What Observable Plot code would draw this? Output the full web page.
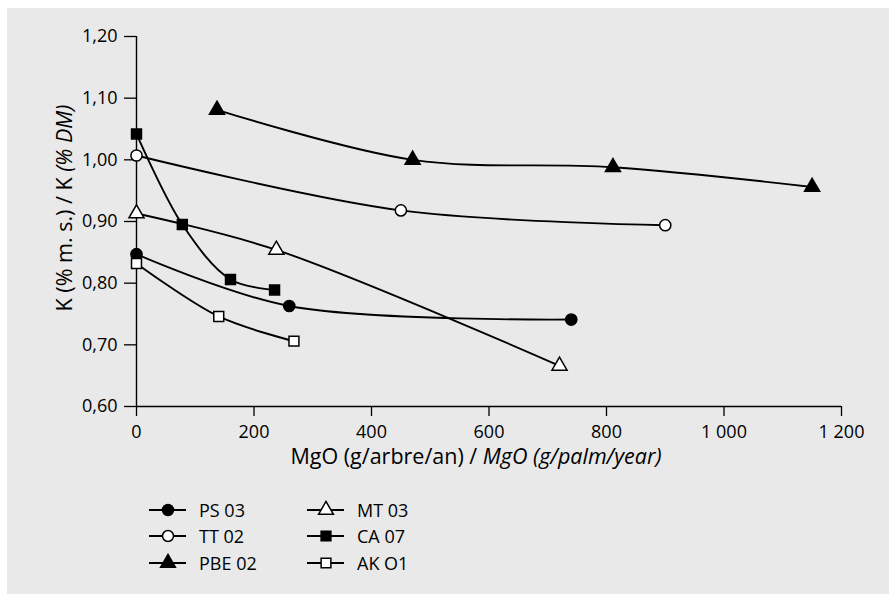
<!DOCTYPE html>
<html>
<head>
<meta charset="utf-8">
<script src="https://cdn.jsdelivr.net/npm/d3@7"></script>
<script src="https://cdn.jsdelivr.net/npm/@observablehq/plot@0.6"></script>
<style>
  html, body { margin: 0; padding: 0; background: #ffffff; }
  #page { position: relative; width: 889px; height: 594px; overflow: hidden; background: #ffffff; font-family: "Open Sans", sans-serif; }
  #bg { position: absolute; left: 7px; top: 8px; right: 0; bottom: 0; background: #e9e9e9; }
  #chart { position: absolute; left: 0; top: 0; }
  #legend { position: absolute; left: 0; top: 0; width: 889px; height: 594px; }
  .item { position: absolute; display: flex; align-items: center; font-size: 18px; color: #000; height: 20px; }
  .item svg { display: block; margin-right: 13px; }
</style>
</head>
<body>
<div id="page">
  <div id="bg"></div>
  <div id="chart"></div>
  <div id="legend"></div>
</div>
<script>
// ---- data ----
const seriesNames = ["PS 03", "TT 02", "PBE 02", "MT 03", "CA 07", "AK O1"];
const seriesSymbols = ["circle", "circle", "triangle", "triangle", "square", "square"];
const seriesFills = ["black", "white", "black", "white", "black", "white"];

const psMgO = [0, 260, 740];
const psK = [0.847, 0.763, 0.741];
const ttMgO = [0, 450, 900];
const ttK = [1.007, 0.918, 0.894];
const pbeMgO = [137, 470, 811, 1150];
const pbeK = [1.081, 1.000, 0.988, 0.956];
const mtMgO = [0, 238, 720];
const mtK = [0.913, 0.854, 0.666];
const caMgO = [0, 78, 160, 235];
const caK = [1.042, 0.895, 0.806, 0.789];
const akMgO = [0, 140, 268];
const akK = [0.832, 0.746, 0.706];

const xTicks = [0, 200, 400, 600, 800, 1000, 1200];
const yTicks = [0.60, 0.70, 0.80, 0.90, 1.00, 1.10, 1.20];

const seriesX = [psMgO, ttMgO, pbeMgO, mtMgO, caMgO, akMgO];
const seriesY = [psK, ttK, pbeK, mtK, caK, akK];

const rows = [];
seriesNames.forEach((name, i) => {
  seriesX[i].forEach((x, j) => {
    rows.push({series: name, mgo: x, k: seriesY[i][j], symbol: seriesSymbols[i], fill: seriesFills[i]});
  });
});

const fmtX = d => d >= 1000 ? String(d).replace(/(\d)(\d{3})$/, "$1\u00a0$2") : String(d);
const fmtY = d => d.toFixed(2).replace(".", ",");

const plot = Plot.plot({
  width: 889,
  height: 480,
  marginLeft: 136,
  marginRight: 48,
  marginTop: 36,
  marginBottom: 74,
  style: {fontFamily: "Open Sans, sans-serif", fontSize: "18px", background: "transparent", color: "#000"},
  x: {domain: [0, 1200]},
  y: {domain: [0.6, 1.2]},
  symbol: {type: "identity"},
  color: {type: "identity"},
  marks: [
    Plot.axisY({ticks: yTicks, tickFormat: fmtY, tickSize: 12, tickPadding: 7, label: null, stroke: "#000", strokeWidth: 1.3, fontSize: 18}),
    Plot.axisX({ticks: xTicks, tickFormat: fmtX, tickSize: 10, tickPadding: 9, label: null, stroke: "#000", strokeWidth: 1.3, fontSize: 18}),
    Plot.ruleX([0], {stroke: "#000", strokeWidth: 1.4}),
    Plot.ruleY([0.6], {stroke: "#000", strokeWidth: 1.4}),
    Plot.line(rows, {x: "mgo", y: "k", z: "series", curve: "catmull-rom", stroke: "#000", strokeWidth: 1.9}),
    Plot.dot(rows, {x: "mgo", y: "k", symbol: "symbol", fill: "fill", stroke: "#000", strokeWidth: 1.5, r: 5.6})
  ]
});
document.getElementById("chart").appendChild(plot);

// axis titles with mixed italic
const svg = d3.select(plot);
const xt = svg.append("text")
  .attr("x", 476).attr("y", 464)
  .attr("text-anchor", "middle")
  .attr("font-size", 21.5).attr("fill", "#000");
xt.append("tspan").text("MgO (g/arbre/an) / ");
xt.append("tspan").attr("font-style", "italic").text("MgO (g/palm/year)");

const yt = svg.append("text")
  .attr("transform", "translate(72,208) rotate(-90)")
  .attr("text-anchor", "middle")
  .attr("font-size", 21.5).attr("fill", "#000");
yt.append("tspan").text("K (% m. s.) / K ");
yt.append("tspan").attr("font-style", "italic").text("(% DM)");

// legend
const legend = document.getElementById("legend");
const legendPos = [
  [149, 500], [149, 526], [149, 553],
  [307, 500], [307, 526], [307, 553]
];
const symMap = {circle: d3.symbolCircle, triangle: d3.symbolTriangle, square: d3.symbolSquare};
seriesNames.forEach((name, i) => {
  const div = document.createElement("div");
  div.className = "item";
  div.style.left = legendPos[i][0] + "px";
  div.style.top = legendPos[i][1] + "px";
  const s = d3.create("svg").attr("width", 37).attr("height", 20);
  s.append("line").attr("x1", 0).attr("x2", 37).attr("y1", 10).attr("y2", 10)
    .attr("stroke", "#000").attr("stroke-width", 1.8);
  s.append("path")
    .attr("d", d3.symbol(symMap[seriesSymbols[i]], Math.PI * 5.5 * 5.5)())
    .attr("transform", "translate(19,10)")
    .attr("fill", seriesFills[i]).attr("stroke", "#000").attr("stroke-width", 1.5);
  div.appendChild(s.node());
  const t = document.createElement("span");
  t.textContent = name;
  div.appendChild(t);
  legend.appendChild(div);
});
</script>
</body>
</html>
